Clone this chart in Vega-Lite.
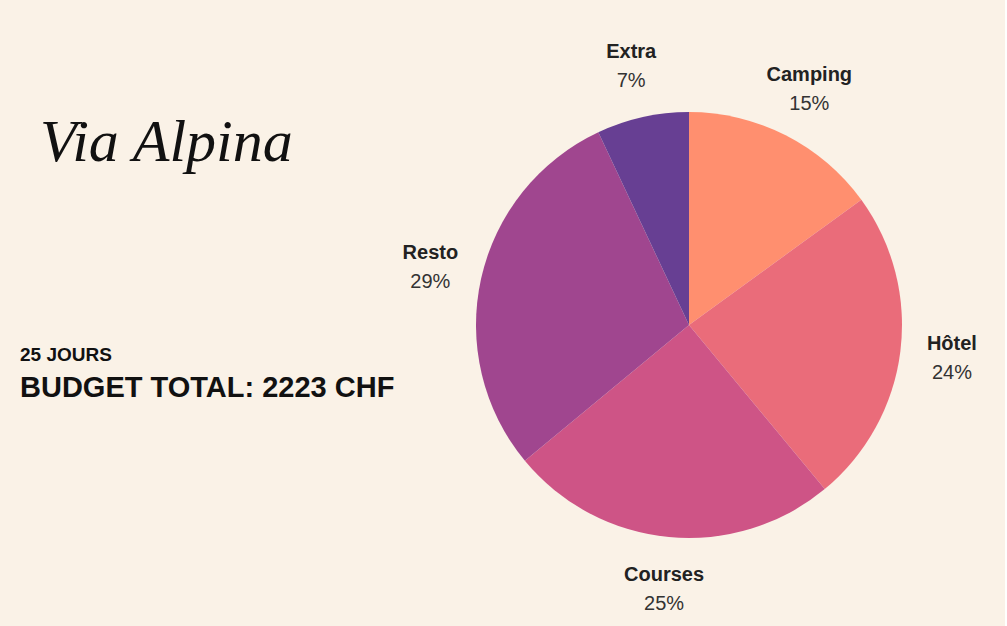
{
  "$schema": "https://vega.github.io/schema/vega-lite/v6.json",
  "background": "#FAF2E7",
  "padding": {"left": 20, "top": 30, "right": 28, "bottom": 6},
  "autosize": {"type": "pad"},
  "config": {"view": {"stroke": null}},
  "bounds": "full",
  "spacing": 0,
  "hconcat": [
    {
      "bounds": "flush",
      "spacing": 0,
      "vconcat": [
        {
          "width": 382,
          "height": 84,
          "data": {"values": [{"t": ""}]},
          "mark": {"type": "text", "text": ""},
          "encoding": {},
          "title": {"text": "Via Alpina", "orient": "bottom", "anchor": "start", "frame": "group", "offset": 0, "dx": 20, "font": "Liberation Serif", "fontStyle": "italic", "fontSize": 60, "fontWeight": "normal", "color": "#111111"}
        },
        {
          "width": 382,
          "height": 232,
          "data": {"values": [{"t": ""}]},
          "mark": {"type": "text", "text": ""},
          "encoding": {},
          "title": {"text": "25 JOURS", "subtitle": "BUDGET TOTAL: 2223 CHF", "orient": "bottom", "anchor": "start", "frame": "group", "offset": 0, "font": "Liberation Sans", "fontSize": 19, "fontWeight": "bold", "color": "#111111", "subtitleFont": "Liberation Sans", "subtitleFontSize": 29, "subtitleFontWeight": "bold", "subtitleColor": "#111111", "subtitlePadding": 9}
        }
      ]
    },
    {
      "width": 540,
      "height": 590,
      "data": {"values": [
        {"cat": "Camping", "share": 0.15, "rank": 1},
        {"cat": "Hôtel", "share": 0.24, "rank": 2},
        {"cat": "Courses", "share": 0.25, "rank": 3},
        {"cat": "Resto", "share": 0.29, "rank": 4},
        {"cat": "Extra", "share": 0.07, "rank": 5}
      ]},
      "encoding": {
        "theta": {"field": "share", "type": "quantitative", "stack": true},
        "order": {"field": "rank", "type": "quantitative"}
      },
      "layer": [
        {
          "mark": {"type": "arc", "outerRadius": 213},
          "encoding": {
            "color": {"field": "cat", "type": "nominal", "legend": null,
              "scale": {"domain": ["Camping", "Hôtel", "Courses", "Resto", "Extra"], "range": ["#FF8F6F", "#EA6C7A", "#CE5486", "#A0468F", "#673F93"]}}
          }
        },
        {
          "mark": {"type": "text", "radius": 265, "dy": -14, "font": "Liberation Sans", "fontSize": 20, "fontWeight": "bold", "color": "#222222"},
          "encoding": {"text": {"field": "cat"}, "detail": {"field": "cat"}}
        },
        {
          "mark": {"type": "text", "radius": 265, "dy": 15, "font": "Liberation Sans", "fontSize": 20, "color": "#333333"},
          "encoding": {"text": {"field": "share", "type": "quantitative", "format": ".0%"}, "detail": {"field": "cat"}}
        }
      ]
    }
  ]
}
